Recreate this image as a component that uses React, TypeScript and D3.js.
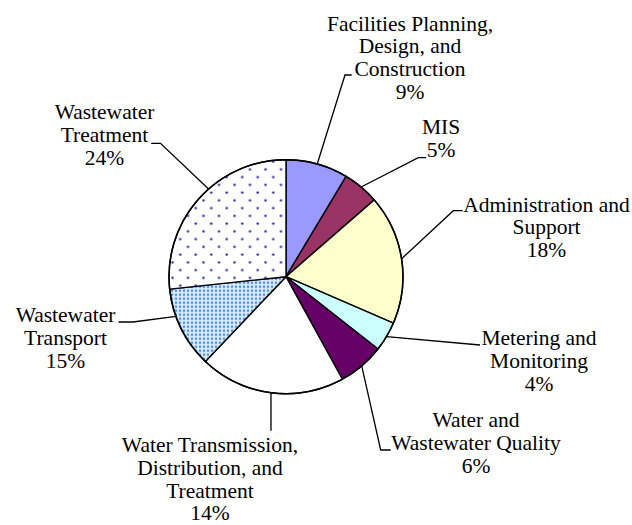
import React from "react";
import * as d3 from "d3";

// ---- data ----
const categories = [
  ["Facilities Planning,", "Design, and", "Construction"],
  ["MIS"],
  ["Administration and", "Support"],
  ["Metering and", "Monitoring"],
  ["Water and", "Wastewater Quality"],
  ["Water Transmission,", "Distribution, and", "Treatment"],
  ["Wastewater", "Transport"],
  ["Wastewater", "Treatment"],
];
// slice sizes as drawn in the picture
const values = [8.6, 5.0, 17.9, 4.1, 6.4, 20.1, 11.2, 26.7];
// percentage labels as printed
const percentLabels = ["9%", "5%", "18%", "4%", "6%", "14%", "15%", "24%"];

// ---- styles / layout ----
const fills = [
  "#9999FF",
  "#993366",
  "#FFFFCC",
  "#CCFFFF",
  "#660066",
  "#FFFFFF",
  "url(#densedots)",
  "url(#sparsedots)",
];
const labelCenters: [number, number][] = [
  [410, 30.5],
  [441, 134],
  [546.5, 211.5],
  [539, 345],
  [476, 426.7],
  [210, 451.7],
  [65.5, 321.7],
  [104.5, 118.8],
];
const leaderPoints: [number, number][][] = [
  [[345, 75], [351.7, 75]],
  [[418.3, 157.7], [426, 157.7]],
  [[453.3, 210.7], [462.7, 210.7]],
  [[480, 345]],
  [[380.7, 450], [390.7, 450]],
  [[271, 430.7]],
  [[133, 322], [118.5, 322]],
  [[160.5, 143.3], [151.2, 143.3]],
];
const leaderAngleShift = [0, 0, 0, 0, 0, 0, 6.5, 6.6];

const W = 632;
const H = 525;
const CX = 286;
const CY = 276.7;
const R = 117;
const LINE = 22.9;
const FONT = '"Liberation Serif", "Times New Roman", Times, serif';

export default function App() {
  const pie = d3
    .pie<number>()
    .sort(null)
    .value((d) => d)
    .startAngle(0)
    .endAngle(2 * Math.PI);
  const arcs = pie(values);
  const arc = d3.arc<d3.PieArcDatum<number>>().innerRadius(0).outerRadius(R);
  const line = d3.line();

  return (
    <svg
      width={W}
      height={H}
      style={{ position: "absolute", left: 0, top: 0, background: "#fff" }}
    >
      <defs>
        <pattern id="sparsedots" patternUnits="userSpaceOnUse" width={15.5} height={15.5} x={CX} y={CY}>
          <rect width={15.5} height={15.5} fill="#fff" />
          <circle cx={3.5} cy={3.5} r={1.4} fill="#7a7ad0" />
          <circle cx={3.5} cy={3.5} r={0.9} fill="#1c1c8c" />
          <circle cx={11.25} cy={11.25} r={1.4} fill="#7a7ad0" />
          <circle cx={11.25} cy={11.25} r={0.9} fill="#1c1c8c" />
        </pattern>
        <pattern id="densedots" patternUnits="userSpaceOnUse" width={4} height={4}>
          <rect width={4} height={4} fill="#eef5fd" />
          <rect x={0.5} y={0.5} width={3} height={3} fill="#a9cdf3" />
          <rect x={1} y={1} width={2} height={2} fill="#4a90e2" />
        </pattern>
      </defs>
      <g transform={`translate(${CX},${CY})`}>
        {arcs.map((a, i) => (
          <path
            key={i}
            d={arc(a) || ""}
            fill={fills[i]}
            stroke="#000"
            strokeWidth={1.4}
            strokeLinejoin="round"
          />
        ))}
        <circle r={R} fill="none" stroke="#000" strokeWidth={1.5} />
      </g>
      {arcs.map((a, i) => {
        const ang = (a.startAngle + a.endAngle) / 2 + (leaderAngleShift[i] * Math.PI) / 180;
        const p: [number, number] = [CX + R * Math.sin(ang), CY - R * Math.cos(ang)];
        const pts: [number, number][] = [p, ...leaderPoints[i]];
        return (
          <path
            key={"l" + i}
            d={line(pts) || ""}
            fill="none"
            stroke="#000"
            strokeWidth={1.3}
          />
        );
      })}
      {categories.map((lines, i) => {
        const [cx, y0] = labelCenters[i];
        const all = [...lines, percentLabels[i]];
        return (
          <text
            key={"t" + i}
            x={cx}
            y={y0}
            textAnchor="middle"
            style={{ fontFamily: FONT, fontSize: "21.5px" }}
            fill="#000"
          >
            {all.map((s, j) => (
              <tspan key={j} x={cx} y={y0 + j * LINE}>
                {s}
              </tspan>
            ))}
          </text>
        );
      })}
    </svg>
  );
}
